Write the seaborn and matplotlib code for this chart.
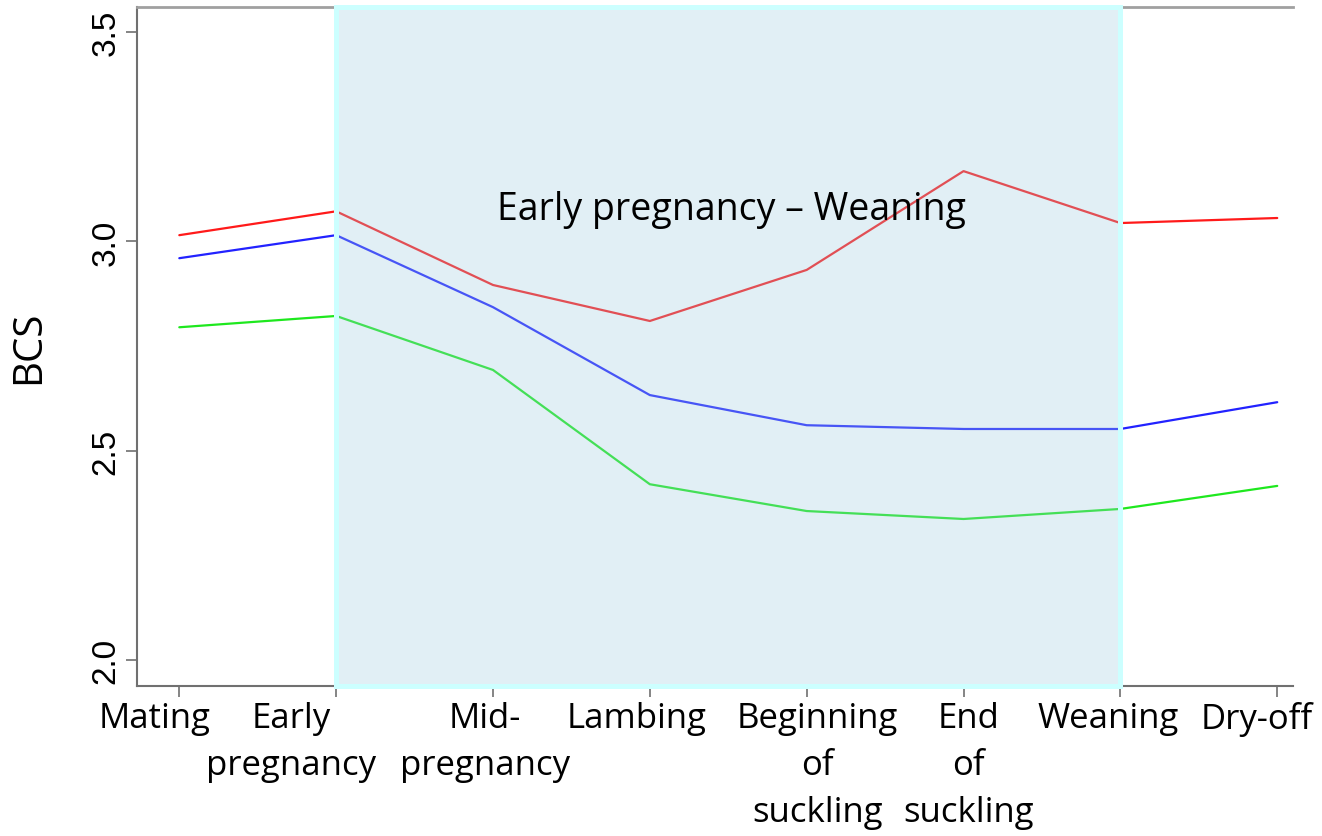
import pandas as pd
import matplotlib.pyplot as plt
import matplotlib.transforms as mtransforms
from matplotlib.patches import Rectangle
import seaborn as sns

# ------------------------
# Data
# ------------------------
stages = ["Mating", "Early\npregnancy", "Mid-\npregnancy", "Lambing",
          "Beginning\nof\nsuckling", "End\nof\nsuckling", "Weaning", "Dry-off"]
bcs_red = [3.015, 3.072, 2.896, 2.810, 2.932, 3.168, 3.044, 3.056]
bcs_blue = [2.960, 3.015, 2.843, 2.633, 2.561, 2.552, 2.552, 2.616]
bcs_green = [2.795, 2.822, 2.693, 2.420, 2.356, 2.337, 2.361, 2.416]
y_ticks = [2.0, 2.5, 3.0, 3.5]
window_label = "Early pregnancy \u2013 Weaning"

df = pd.DataFrame({
    "stage": stages * 3,
    "BCS": bcs_red + bcs_blue + bcs_green,
    "group": ["red"] * 8 + ["blue"] * 8 + ["green"] * 8,
})

sns.set_style("white")
plt.rcParams["font.family"] = ["Open Sans", "DejaVu Sans"]
plt.rcParams["text.color"] = "black"
plt.rcParams["axes.labelcolor"] = "black"
plt.rcParams["xtick.labelcolor"] = "black"
plt.rcParams["ytick.labelcolor"] = "black"

fig = plt.figure(figsize=(13.22, 8.37), dpi=100)
ax = fig.add_axes([0.1036, 0.1792, 0.8744, 0.8112])

sns.lineplot(data=df, x="stage", y="BCS", hue="group",
             palette={"red": "#ff1a1a", "blue": "#2222ff", "green": "#1ee81e"},
             linewidth=1.6, legend=False, ax=ax, sort=False)

# shaded window drawn over the lines (semi-transparent face, opaque edge)
i0, i1 = stages.index("Early\npregnancy"), stages.index("Weaning")
trans = mtransforms.blended_transform_factory(ax.transData, ax.transAxes)
ax.add_patch(Rectangle((i0, 0), i1 - i0, 1.0, transform=trans,
                       facecolor=(0.62, 0.80, 0.87, 0.3), edgecolor="none",
                       zorder=5, clip_on=False))
ax.add_patch(Rectangle((i0, 0), i1 - i0, 1.0, transform=trans,
                       facecolor="none", edgecolor="#ccffff", linewidth=3.6,
                       zorder=6, clip_on=False))
ax.text((i0 + i1) / 2 + 0.02, 3.077, window_label, ha="center", va="center",
        fontsize=27, zorder=7)

ax.set_xlim(-0.27, 7.1)
ax.set_ylim(1.938, 3.56)
ax.set_yticks(y_ticks)
ax.set_yticklabels([f"{v:.1f}" for v in y_ticks], rotation=90, va="center",
                   family="Liberation Sans", fontsize=24)
ax.set_xticks(range(len(stages)))
ax.set_xticklabels([""] * len(stages))
ax.set_xlabel("")
ax.set_ylabel("BCS", fontsize=29, labelpad=30)

# x labels placed as text boxes, nudged like the original slide
offsets = [-25, -45, -8, -13, 11, 5, -12, -20]
for i, (name, dx) in enumerate(zip(stages, offsets)):
    t = trans + mtransforms.ScaledTranslation(dx / 100, -0.15, fig.dpi_scale_trans)
    ax.text(i, 0, name, transform=t, ha="center", va="top",
            multialignment="center", fontsize=25, linespacing=1.5,
            clip_on=False)

for side in ["left", "bottom"]:
    ax.spines[side].set_color("#707070")
    ax.spines[side].set_linewidth(1.5)
ax.spines["top"].set_color("#a0a0a0")
ax.spines["top"].set_linewidth(2)
ax.spines["right"].set_visible(False)
ax.tick_params(axis="both", which="both", direction="out", length=8,
               width=1.2, color="#707070", left=True, bottom=True, pad=3)

plt.savefig("out.png", dpi=100)
plt.close()
